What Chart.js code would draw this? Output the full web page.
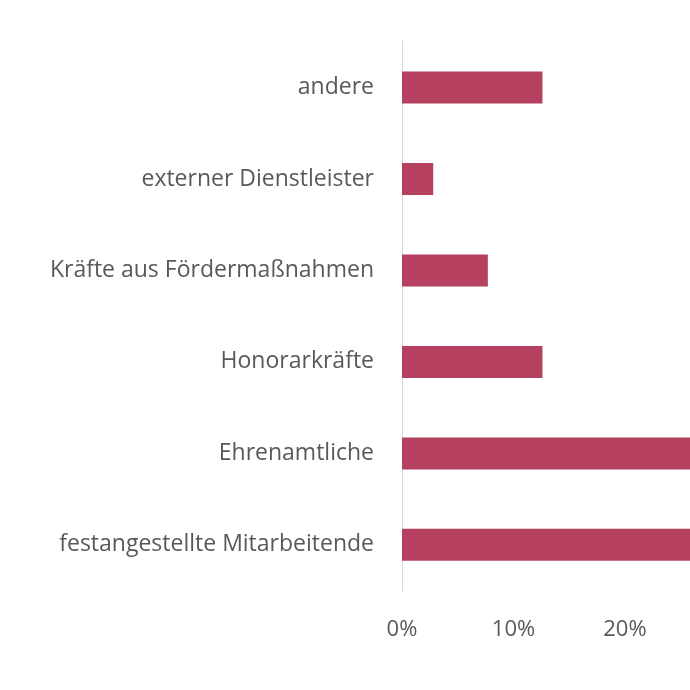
<!DOCTYPE html>
<html><head><meta charset="utf-8">
<script src="https://cdn.jsdelivr.net/npm/chart.js@4/dist/chart.umd.min.js"></script>
<style>html,body{margin:0;padding:0;overflow:hidden;background:#fff;width:690px;height:690px}
#wrap{position:absolute;left:0;top:0;width:1230px;height:690px}</style>
</head><body><div id="wrap"><canvas id="c" width="1230" height="690"></canvas></div>
<script>
const categories = ["andere","externer Dienstleister","Kräfte aus Fördermaßnahmen","Honorarkräfte","Ehrenamtliche","festangestellte Mitarbeitende"];
const values = [12.6, 2.8, 7.7, 12.6, 45, 55];
const barColor = "#b5405f";
new Chart(document.getElementById("c"), {
  type: "bar",
  data: { labels: categories, datasets: [{ data: values, backgroundColor: barColor, barPercentage: 0.7, categoryPercentage: 0.5 }] },
  options: {
    indexAxis: "y", responsive: false, animation: false, devicePixelRatio: 1,
    layout: { padding: { top: 32, bottom: 21, right: 40 } },
    plugins: { legend: { display: false }, tooltip: { enabled: false } },
    scales: {
      x: { min: 0, max: 70, ticks: { stepSize: 10, callback: v => v + "%", color: "#595959", font: { size: 22, family: "Open Sans" }, padding: 26 },
           grid: { display: false, drawTicks: false }, border: { display: false } },
      y: { ticks: { color: "#595959", font: { size: 23, family: "Open Sans" }, padding: 28 },
           grid: { display: false, drawTicks: false }, border: { display: true, color: "#d9d9d9", width: 1 },
           afterFit: s => { s.width = 402; } }
    }
  }
});
</script></body></html>
